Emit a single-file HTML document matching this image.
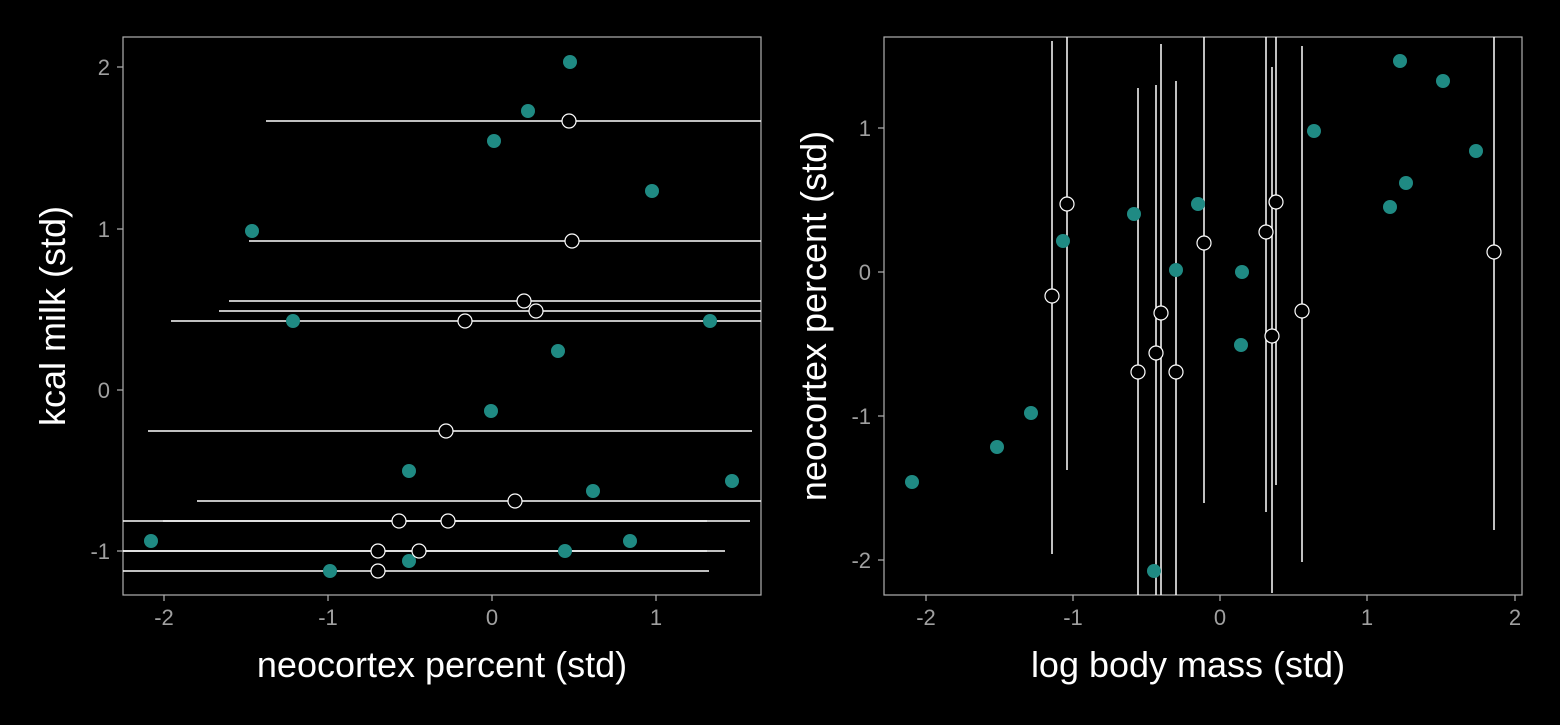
<!DOCTYPE html>
<html><head><meta charset="utf-8"><style>body{margin:0;background:#000}</style></head><body>
<svg width="1560" height="720" xmlns="http://www.w3.org/2000/svg" font-family="Liberation Sans, sans-serif">
<rect width="1560" height="720" fill="#000"/>
<!-- Left panel -->
<rect x="123" y="37" width="638" height="558" fill="none" stroke="#b0b0b0" stroke-width="1.2"/>
<g stroke="#b0b0b0" stroke-width="1.2">
<line x1="164" y1="595" x2="164" y2="601"/><line x1="328" y1="595" x2="328" y2="601"/><line x1="492" y1="595" x2="492" y2="601"/><line x1="656" y1="595" x2="656" y2="601"/>
<line x1="117" y1="67" x2="123" y2="67"/><line x1="117" y1="229" x2="123" y2="229"/><line x1="117" y1="390" x2="123" y2="390"/><line x1="117" y1="551" x2="123" y2="551"/>
</g>
<g fill="#a0a0a0" font-size="22" text-anchor="middle">
<text x="164" y="625">-2</text><text x="328" y="625">-1</text><text x="492" y="625">0</text><text x="656" y="625">1</text>
</g>
<g fill="#a0a0a0" font-size="22" text-anchor="end">
<text x="110" y="75">2</text><text x="110" y="237">1</text><text x="110" y="398">0</text><text x="110" y="559">-1</text>
</g>
<text x="442" y="677" fill="#fff" font-size="36" text-anchor="middle">neocortex percent (std)</text>
<text transform="translate(65,316) rotate(-90)" fill="#fff" font-size="36" text-anchor="middle">kcal milk (std)</text>
<g stroke="#fff" stroke-width="1.5">
<line x1="266" y1="121" x2="761" y2="121"/><line x1="249" y1="241" x2="761" y2="241"/>
<line x1="229" y1="301" x2="761" y2="301"/><line x1="219" y1="311" x2="761" y2="311"/>
<line x1="171" y1="321" x2="761" y2="321"/><line x1="148" y1="431" x2="752" y2="431"/>
<line x1="197" y1="501" x2="761" y2="501"/><line x1="163" y1="521" x2="750" y2="521"/>
<line x1="123" y1="521" x2="707" y2="521"/><line x1="123" y1="551" x2="725" y2="551"/>
<line x1="123" y1="551" x2="707" y2="551"/><line x1="123" y1="571" x2="709" y2="571"/>
</g>
<g fill="#1f8a83">
<circle cx="570" cy="62" r="7"/><circle cx="528" cy="111" r="7"/><circle cx="494" cy="141" r="7"/><circle cx="652" cy="191" r="7"/><circle cx="252" cy="231" r="7"/><circle cx="293" cy="321" r="7"/><circle cx="710" cy="321" r="7"/><circle cx="558" cy="351" r="7"/><circle cx="491" cy="411" r="7"/><circle cx="409" cy="471" r="7"/><circle cx="593" cy="491" r="7"/><circle cx="732" cy="481" r="7"/><circle cx="151" cy="541" r="7"/><circle cx="630" cy="541" r="7"/><circle cx="565" cy="551" r="7"/><circle cx="409" cy="561" r="7"/><circle cx="330" cy="571" r="7"/>
</g>
<g fill="#000" stroke="#fff" stroke-width="1.2">
<circle cx="569" cy="121" r="7"/><circle cx="572" cy="241" r="7"/><circle cx="524" cy="301" r="7"/><circle cx="536" cy="311" r="7"/><circle cx="465" cy="321" r="7"/><circle cx="446" cy="431" r="7"/><circle cx="515" cy="501" r="7"/><circle cx="399" cy="521" r="7"/><circle cx="448" cy="521" r="7"/><circle cx="378" cy="551" r="7"/><circle cx="419" cy="551" r="7"/><circle cx="378" cy="571" r="7"/>
</g>
<!-- Right panel -->
<rect x="884" y="37" width="638" height="558" fill="none" stroke="#b0b0b0" stroke-width="1.2"/>
<g stroke="#b0b0b0" stroke-width="1.2">
<line x1="926" y1="595" x2="926" y2="601"/><line x1="1073" y1="595" x2="1073" y2="601"/><line x1="1220" y1="595" x2="1220" y2="601"/><line x1="1367" y1="595" x2="1367" y2="601"/><line x1="1515" y1="595" x2="1515" y2="601"/>
<line x1="878" y1="128" x2="884" y2="128"/><line x1="878" y1="272" x2="884" y2="272"/><line x1="878" y1="416" x2="884" y2="416"/><line x1="878" y1="560" x2="884" y2="560"/>
</g>
<g fill="#a0a0a0" font-size="22" text-anchor="middle">
<text x="926" y="625">-2</text><text x="1073" y="625">-1</text><text x="1220" y="625">0</text><text x="1367" y="625">1</text><text x="1515" y="625">2</text>
</g>
<g fill="#a0a0a0" font-size="22" text-anchor="end">
<text x="871" y="136">1</text><text x="871" y="280">0</text><text x="871" y="424">-1</text><text x="871" y="568">-2</text>
</g>
<text x="1188" y="677" fill="#fff" font-size="36" text-anchor="middle">log body mass (std)</text>
<text transform="translate(826,316) rotate(-90)" fill="#fff" font-size="36" text-anchor="middle">neocortex percent (std)</text>
<g stroke="#fff" stroke-width="1.5">
<line x1="1052" y1="41" x2="1052" y2="554"/><line x1="1067" y1="37" x2="1067" y2="470"/>
<line x1="1138" y1="88" x2="1138" y2="595"/><line x1="1161" y1="44" x2="1161" y2="595"/>
<line x1="1156" y1="85" x2="1156" y2="595"/><line x1="1176" y1="81" x2="1176" y2="595"/>
<line x1="1204" y1="37" x2="1204" y2="503"/><line x1="1266" y1="37" x2="1266" y2="512"/>
<line x1="1272" y1="67" x2="1272" y2="593"/><line x1="1276" y1="37" x2="1276" y2="485"/>
<line x1="1302" y1="46" x2="1302" y2="562"/><line x1="1494" y1="37" x2="1494" y2="530"/>
</g>
<g fill="#1f8a83">
<circle cx="912" cy="482" r="7"/><circle cx="997" cy="447" r="7"/><circle cx="1031" cy="413" r="7"/><circle cx="1063" cy="241" r="7"/><circle cx="1134" cy="214" r="7"/><circle cx="1176" cy="270" r="7"/><circle cx="1198" cy="204" r="7"/><circle cx="1242" cy="272" r="7"/><circle cx="1241" cy="345" r="7"/><circle cx="1314" cy="131" r="7"/><circle cx="1400" cy="61" r="7"/><circle cx="1443" cy="81" r="7"/><circle cx="1476" cy="151" r="7"/><circle cx="1406" cy="183" r="7"/><circle cx="1390" cy="207" r="7"/><circle cx="1154" cy="571" r="7"/>
</g>
<g fill="#000" stroke="#fff" stroke-width="1.2">
<circle cx="1052" cy="296" r="7"/><circle cx="1067" cy="204" r="7"/><circle cx="1138" cy="372" r="7"/><circle cx="1161" cy="313" r="7"/><circle cx="1156" cy="353" r="7"/><circle cx="1176" cy="372" r="7"/><circle cx="1204" cy="243" r="7"/><circle cx="1266" cy="232" r="7"/><circle cx="1272" cy="336" r="7"/><circle cx="1276" cy="202" r="7"/><circle cx="1302" cy="311" r="7"/><circle cx="1494" cy="252" r="7"/>
</g>
</svg>
</body></html>
